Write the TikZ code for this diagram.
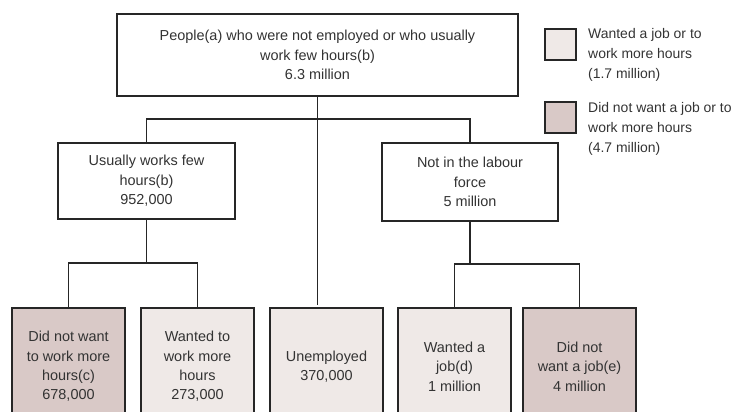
\documentclass[tikz,border=0pt]{standalone}
\usepackage{fontspec}
\setmainfont{Liberation Sans}
\definecolor{wantfill}{HTML}{EFE9E7}
\definecolor{nowantfill}{HTML}{D9C9C7}
\definecolor{txtgrey}{HTML}{333333}
\begin{document}
\begin{tikzpicture}[x=1bp,y=-1bp]
    \tikzset{every node/.style={font=\fontsize{14.5}{19.5}\selectfont, text=txtgrey, align=center, inner sep=0pt},
        box/.style={draw=black!85, line width=1.5bp, fill=white},
        leaf/.style={box, minimum width=113bp, minimum height=117bp},
        key/.style={draw=black!85, line width=1.5bp, minimum size=31bp},
        keytext/.style={anchor=west, align=left, font=\fontsize{14}{20}\selectfont},
        link/.style={draw=black!85, line width=1.5bp}}
    \useasboundingbox (0,0) rectangle (747,411);
    \clip (0,0) rectangle (747,411);
    % top box and legend
    \node [box, minimum width=401bp, minimum height=82bp] (top) at (317.5,55) {People(a) who were not employed or who usually\\work few hours(b)\\6.3 million};
    \node [key, fill=wantfill] (key1) at (560.5,44.5) {};
    \node [keytext] (key1txt) at (588,55) {Wanted a job or to\\work more hours\\(1.7 million)};
    \node [key, fill=nowantfill] (key2) at (560.5,117.5) {};
    \node [keytext] (key2txt) at (588,129) {Did not want a job or to\\work more hours\\(4.7 million)};
    % middle row
    \node [box, minimum width=177bp, minimum height=76bp] (usual) at (146.5,181) {Usually works few\\hours(b)\\952,000};
    \node [box, minimum width=176bp, minimum height=78bp] (notlab) at (470,182) {Not in the labour\\force\\5 million};
    % bottom row
    \node [leaf, fill=nowantfill] (nomore) at (68.5,366.5) {Did not want\\to work more\\hours(c)\\678,000};
    \node [leaf, fill=wantfill] (more) at (197.5,366.5) {Wanted to\\work more\\hours\\273,000};
    \node [leaf, fill=wantfill] (unemp) at (326.5,366.5) {Unemployed\\370,000};
    \node [leaf, fill=wantfill] (wantjob) at (454.5,366.5) {Wanted a\\job(d)\\1 million};
    \node [leaf, fill=nowantfill] (nojob) at (579.5,366.5) {Did not\\want a job(e)\\4 million};
    % connectors
    \coordinate (j1) at (317.5,119);
    \coordinate (j2) at (146.5,263);
    \coordinate (j3) at (470,264);
    \draw [link] (top.south) -- (j1);
    \draw [link] (usual.north) |- (j1) -| (notlab.north);
    \draw [link] (j1) -- ([yshift=2bp]j1 |- unemp.north);
    \draw [link] (usual.south) -- (j2);
    \draw [link] (nomore.north) |- (j2) -| (more.north);
    \draw [link] (notlab.south) -- (j3);
    \draw [link] (wantjob.north) |- (j3) -| (nojob.north);
\end{tikzpicture}
\end{document}
